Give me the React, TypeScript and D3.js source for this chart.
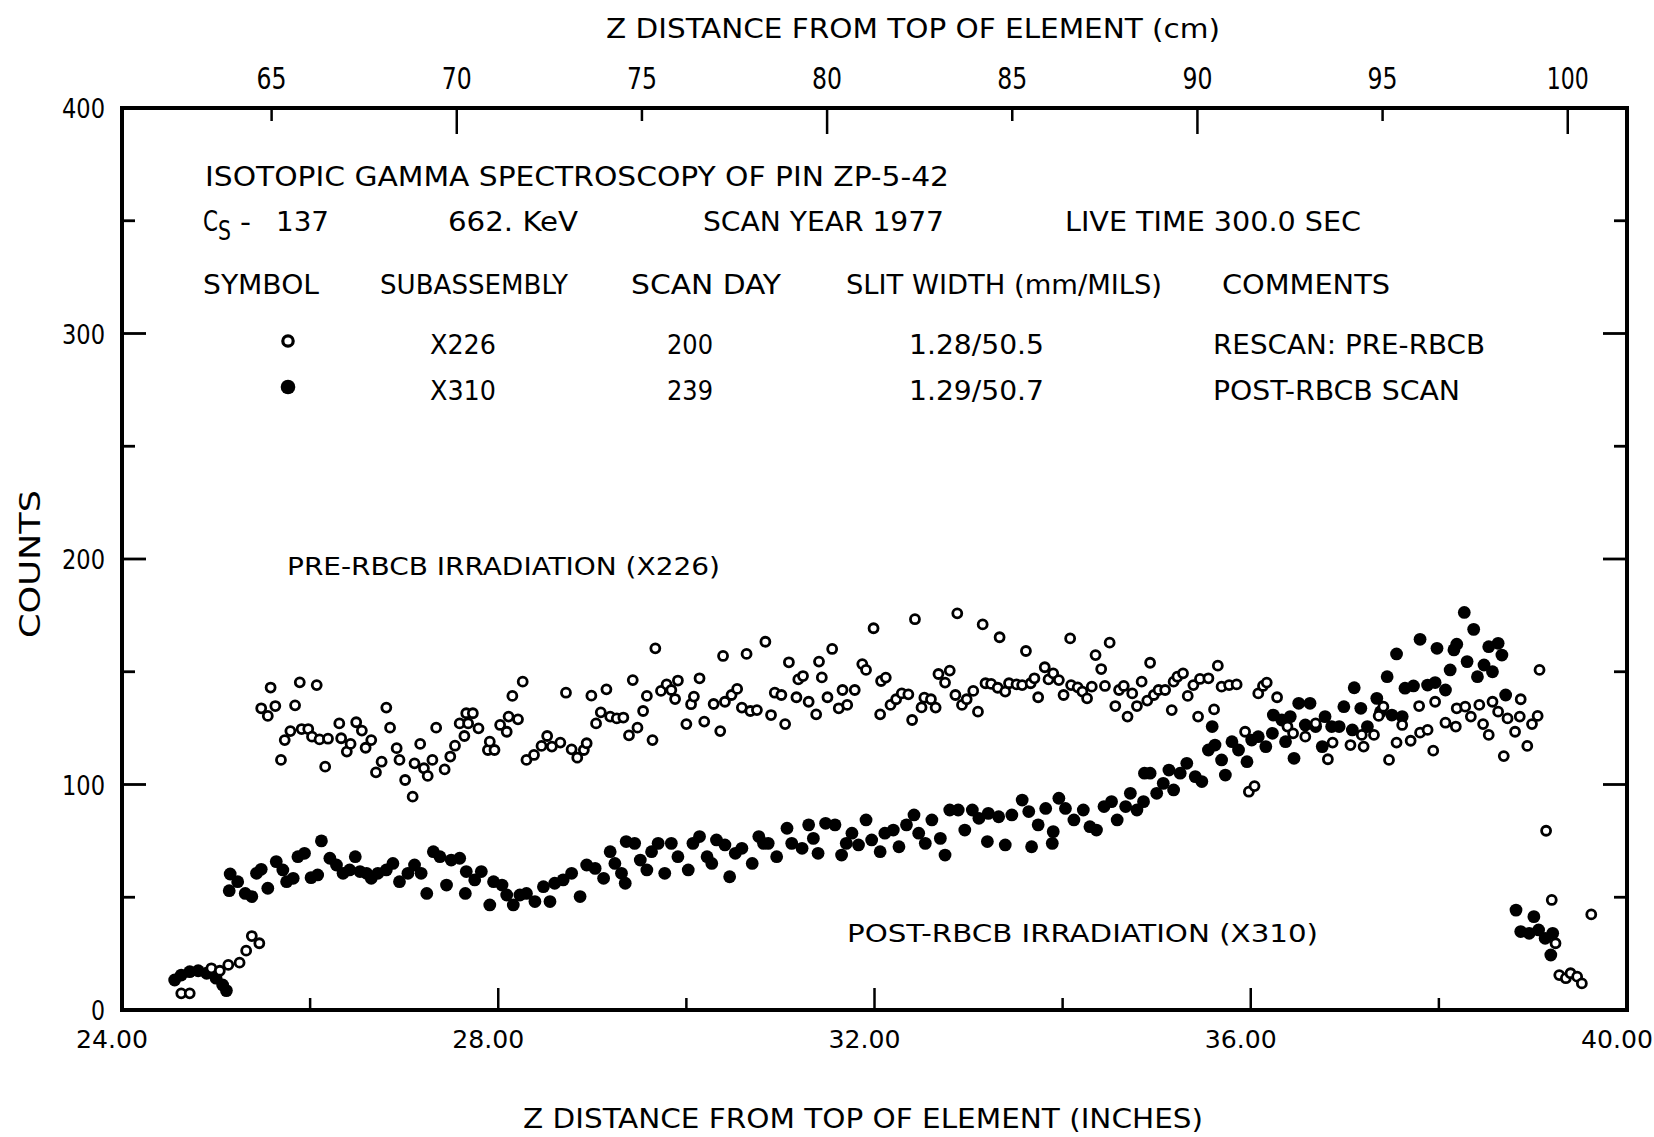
import React from 'react';
import * as d3 from 'd3';

const width = 1654;
const height = 1137;
const FONT = "'DejaVu Sans Condensed', 'DejaVu Sans', sans-serif";

// pre-RBCB rescan (X226), open circles
const preInches = [
  24.63, 24.72, 24.95, 25.04, 25.13, 25.25, 25.32, 25.38, 25.46,
  25.48, 25.55, 25.58, 25.63, 25.69, 25.73, 25.79, 25.84, 25.89, 25.91, 25.98, 26.02, 26.07, 26.10, 26.16,
  26.19, 26.31, 26.33, 26.39, 26.43, 26.49, 26.55, 26.59, 26.65, 26.70, 26.76, 26.81, 26.85, 26.92, 26.95,
  27.01, 27.09, 27.11, 27.17, 27.21, 27.25, 27.30, 27.34, 27.43, 27.49, 27.54, 27.59, 27.64, 27.66,
  27.68, 27.73, 27.79, 27.89, 27.91, 27.96, 28.02, 28.09, 28.11, 28.15, 28.21, 28.26, 28.30, 28.38, 28.46,
  28.52, 28.57, 28.66, 28.72, 28.78, 28.84, 28.91, 28.94, 28.99, 29.04, 29.09, 29.15, 29.19, 29.26, 29.33,
  29.39, 29.43, 29.48, 29.54, 29.58, 29.64, 29.67, 29.73, 29.79, 29.84, 29.88, 29.91, 30.00, 30.05, 30.08,
  30.14, 30.19, 30.29, 30.36, 30.39, 30.41, 30.48, 30.54, 30.59, 30.64, 30.68, 30.75,
  30.84, 30.90, 30.94, 31.01, 31.05, 31.09, 31.17, 31.19, 31.24, 31.30, 31.38, 31.41, 31.44, 31.50, 31.55,
  31.62, 31.66, 31.71, 31.79, 31.87, 31.91, 31.99, 32.06, 32.07, 32.12, 32.17, 32.23, 32.29, 32.36, 32.40,
  32.43, 32.50, 32.53, 32.60, 32.65, 32.68, 32.75, 32.80, 32.86, 32.88, 32.93, 32.98, 33.05, 33.10, 33.15,
  33.18, 33.24, 33.31, 33.33, 33.39, 33.43, 33.51, 33.57, 33.61, 33.66, 33.70, 33.74, 33.81, 33.85, 33.90,
  33.96, 34.01, 34.08, 34.09, 34.16, 34.21, 34.26, 34.31, 34.35, 34.41, 34.45, 34.50, 34.56, 34.60, 34.65,
  34.69, 34.74, 34.79, 34.84, 34.90, 34.93, 34.97, 35.02, 35.09, 35.16, 35.18, 35.22, 35.28, 35.33, 35.39,
  35.44, 35.46, 35.55, 35.61, 35.65, 35.69, 35.77, 35.85, 35.94, 35.98, 36.04, 36.08, 36.13, 36.17, 36.28,
  36.39, 36.45, 36.58, 36.69, 36.82, 36.87,
  37.06, 37.18, 37.20, 37.31, 37.36, 37.41, 37.47, 37.55, 37.61, 37.70, 37.79, 37.80, 37.88, 37.94, 37.96,
  38.07, 38.18, 38.19, 38.28, 38.34, 38.43, 38.47, 38.53, 38.57, 38.63, 38.69, 38.73, 38.81, 38.86, 38.87,
  38.94, 38.99, 39.05, 39.07, 39.14, 39.20, 39.24, 39.28, 39.35, 39.40, 39.47, 39.52, 39.62,
];
const preCounts = [
  7.4, 7.4, 18.5, 17.4, 20.0, 21.0, 26.3, 32.8, 29.6,
  133.8, 130.4, 143.0, 134.8, 110.9, 119.7, 123.7, 135.1, 145.3, 124.6, 124.6, 121.2, 144.1, 120.0, 107.9,
  120.3, 127.1, 120.5, 114.6, 118.0, 127.6, 123.9, 116.3, 119.7, 105.4, 110.1, 134.1, 125.2, 116.1, 110.9,
  102.0, 94.6, 109.4, 118.0, 107.2, 103.8, 110.9, 125.2, 106.7, 112.4, 117.2, 127.1, 121.5, 131.6,
  127.1, 131.6, 124.9, 115.3, 119.0, 115.3, 126.4, 123.4, 130.1, 139.3, 128.9, 145.6, 110.9, 113.1, 117.1,
  121.5, 116.8, 118.6, 140.7, 115.6, 111.9, 115.3, 118.3, 139.4, 127.1, 132.0, 142.2, 130.1, 129.3, 129.7,
  121.8, 146.3, 125.2, 132.6, 139.3, 119.7, 160.4, 141.5, 144.4, 141.9, 137.9, 146.1, 126.8, 135.6, 139.0,
  147.1, 127.9, 135.7, 123.7, 157.0, 136.7, 139.7, 142.4, 134.1, 157.9, 132.6, 133.0,
  163.3, 130.8, 140.7, 139.7, 126.8, 154.2, 138.7, 146.6, 148.1, 136.7, 131.1, 154.5, 147.5, 138.7, 160.1,
  133.8, 141.9, 135.3, 141.9, 153.4, 150.8, 169.3, 131.1, 145.9, 147.4, 135.3, 137.8, 140.4, 140.0, 128.6,
  173.3, 134.2, 138.5, 137.8, 134.1, 149.0, 145.2, 150.5, 139.7, 175.9, 135.3, 137.8, 141.5, 132.3, 171.0,
  144.9, 144.6, 142.9, 165.3, 141.2, 144.9, 144.4, 144.1, 159.2, 144.9, 147.1, 138.7, 152.0, 146.6, 149.3,
  146.3, 139.7, 164.8, 144.1, 143.1, 141.2, 138.2, 143.4, 157.4, 151.2, 143.7, 162.9, 134.8, 141.9, 143.7,
  130.1, 140.4, 134.8, 145.6, 137.2, 154.0, 139.7, 141.9, 141.9, 133.0, 145.6, 147.8, 149.3, 139.3, 144.1,
  130.1, 146.8, 147.1, 133.3, 152.7, 143.4, 144.1, 144.4, 123.4, 96.8, 99.3, 140.4, 143.7, 145.2, 138.7,
  125.7, 122.7, 121.2, 127.1, 111.2, 118.6,
  117.5, 122.0, 116.8, 122.0, 130.4, 134.5, 110.9, 118.6, 126.4, 119.4, 134.8, 123.0, 124.2, 115.0, 136.7,
  127.4, 125.7, 133.8, 134.5, 130.1, 135.3, 126.8, 122.0, 136.7, 132.3, 112.6, 129.3, 123.4, 130.1, 137.8,
  117.1, 126.8, 130.4, 150.8, 79.5, 48.8, 29.6, 15.5, 14.1, 16.3, 14.8, 11.8, 42.4,
];

// post-RBCB scan (X310), filled circles
const postInches = [
  24.56, 24.63, 24.72, 24.81, 24.90, 25.00, 25.07, 25.11,
  25.14, 25.15, 25.23, 25.31, 25.38, 25.43, 25.48, 25.55, 25.64, 25.71, 25.75, 25.82, 25.87, 25.94, 26.01,
  26.08, 26.12, 26.21, 26.28, 26.35, 26.42, 26.48, 26.53, 26.60, 26.65, 26.72, 26.81, 26.88, 26.95, 27.04,
  27.11, 27.18, 27.24, 27.31, 27.38, 27.45, 27.50, 27.59, 27.65,
  27.66, 27.75, 27.82, 27.91, 27.95, 28.04, 28.09, 28.16, 28.23, 28.30, 28.39, 28.48, 28.55, 28.60, 28.69,
  28.78, 28.87, 28.94, 29.03, 29.12, 29.19, 29.24, 29.31, 29.35, 29.36, 29.45, 29.51, 29.58, 29.63, 29.70,
  29.77, 29.84, 29.91, 30.02, 30.07, 30.14, 30.22, 30.27, 30.32, 30.41, 30.46, 30.52, 30.59, 30.70,
  30.77, 30.82, 30.87, 30.96, 31.07, 31.12, 31.23, 31.30, 31.35, 31.40, 31.48, 31.58, 31.65, 31.70, 31.76,
  31.83, 31.91, 31.97, 32.06, 32.11, 32.20, 32.26, 32.34, 32.42, 32.47, 32.54, 32.61, 32.70, 32.75, 32.80,
  32.89, 32.96, 33.04, 33.11, 33.20, 33.21, 33.32, 33.39, 33.46, 33.57, 33.64, 33.67, 33.74, 33.82, 33.89,
  33.90,
  33.96, 34.03, 34.12, 34.22, 34.29, 34.36, 34.44, 34.52, 34.58, 34.67, 34.72, 34.79, 34.86, 34.87, 34.93,
  35.00, 35.07, 35.13, 35.18, 35.25, 35.32, 35.41, 35.48, 35.55, 35.59, 35.62, 35.69, 35.73, 35.80, 35.87,
  35.96, 36.01, 36.08, 36.16, 36.23, 36.24, 36.33, 36.37, 36.42, 36.46, 36.51, 36.58, 36.63, 36.69, 36.76,
  36.79, 36.86,
  36.94, 36.99, 37.08, 37.10, 37.17, 37.24, 37.34, 37.38, 37.45, 37.50, 37.55, 37.61, 37.64, 37.73, 37.80,
  37.88, 37.96, 37.98, 38.07, 38.12, 38.16, 38.19, 38.27, 38.30, 38.37, 38.41, 38.48, 38.53, 38.57, 38.63,
  38.67, 38.71, 38.82, 38.87, 38.96, 39.01, 39.06, 39.13, 39.19, 39.21,
];
const postCounts = [
  13.3, 15.5, 17.0, 17.4, 16.3, 14.1, 11.1, 8.6,
  52.9, 60.3, 56.9, 51.7, 50.3, 60.6, 62.4, 54.0, 65.8, 62.1, 56.9, 58.4, 68.0, 69.5, 58.7,
  59.9, 75.0, 67.3, 64.3, 60.6, 62.1, 68.0, 61.4, 60.6, 58.4, 60.6, 62.1, 65.0, 56.9, 60.6,
  64.3, 60.6, 51.7, 70.2, 68.0, 55.4, 66.5, 67.3, 51.7,
  61.4, 57.7, 61.4, 46.6, 56.9, 55.4, 51.0, 46.6, 51.0, 51.7, 48.1, 54.7, 48.1, 56.2, 57.7,
  60.6, 50.3, 64.3, 62.8, 58.4, 70.2, 65.0, 60.6, 56.2, 74.7, 73.9, 66.5, 62.1, 70.2, 73.9,
  60.6, 73.9, 68.0, 62.1, 73.9, 76.9, 68.0, 65.0, 75.4, 73.2, 59.1, 69.5, 71.7, 65.0,
  76.9, 73.9, 73.9, 68.0, 80.6, 73.9, 71.7, 82.1, 76.1, 69.5, 82.8, 82.1, 68.7, 73.9, 78.4,
  73.2, 84.3, 75.4, 70.2, 78.4, 79.8, 72.4, 82.1, 86.5, 78.4, 73.9, 84.3, 76.1, 68.7, 88.7,
  88.7, 79.8, 88.7, 85.0, 74.7, 87.2, 85.7, 73.2, 86.5, 93.1, 88.0, 72.4, 82.1, 89.4, 73.9,
  79.1,
  93.9, 89.4, 84.3, 88.7, 81.3, 79.8, 90.2, 92.4, 84.3, 90.2, 96.1, 88.7, 92.4, 105.0, 105.0,
  96.1, 100.5, 106.4, 97.6, 105.0, 109.4, 103.5, 101.3, 115.3, 125.7, 117.5, 110.9, 104.2, 119.0, 115.3,
  110.1, 119.7, 121.2, 116.8, 122.7, 130.8, 128.6, 119.0, 130.1, 111.6, 136.0, 126.4, 136.0, 125.7, 116.8,
  130.1, 125.7,
  125.7, 134.5, 124.2, 142.9, 133.8, 125.7, 138.2, 132.3, 147.8, 130.8, 157.9, 130.1, 142.7, 143.7, 164.4,
  144.1, 145.2, 160.4, 141.9, 150.8, 159.7, 162.2, 176.3, 154.5, 168.8, 147.8, 153.0, 161.1, 150.0, 162.6,
  157.4, 139.7, 44.3, 34.8, 34.0, 41.4, 35.5, 31.8, 24.4, 34.0,
];

const countTicks = d3.range(0, 401, 50);
const countLabels = [0, 100, 200, 300, 400];
const inchTicks = d3.range(26, 39, 2);
const inchLabels = [24, 28, 32, 36, 40];
const cmTicks = d3.range(65, 101, 5);

const x = d3.scaleLinear().domain([24, 40]).range([122, 1627]);
const xCm = d3.scaleLinear().domain([24 * 2.54, 40 * 2.54]).range([122, 1627]);
const y = d3.scaleLinear().domain([0, 400]).range([1010, 108]);

const T = ({ x, y, w, size = 26, anchor = 'start', children, ...rest }) => (
  <text
    x={x}
    y={y}
    fontSize={size}
    textAnchor={anchor}
    textLength={w}
    lengthAdjust={w ? 'spacingAndGlyphs' : undefined}
    {...rest}
  >
    {children}
  </text>
);

const OpenDot = ({ cx, cy, r = 4.5, sw = 2.8 }) => (
  <circle cx={cx} cy={cy} r={r} fill="#fff" stroke="#000" strokeWidth={sw} />
);
const FullDot = ({ cx, cy, r = 6.4 }) => <circle cx={cx} cy={cy} r={r} fill="#000" />;

const Axes = () => {
  const [x0, x1] = x.range();
  const [y0, y1] = y.range();
  return (
    <g stroke="#000">
      <rect x={x0} y={y1} width={x1 - x0} height={y0 - y1} fill="none" strokeWidth={4} />
      {countTicks.map(v => {
        let len = v % 100 === 0 ? 24 : 13;
        if (v === 0 || v === 400) return null;
        return (
          <g key={'c' + v} strokeWidth={2.8}>
            <line x1={x0} x2={x0 + len} y1={y(v)} y2={y(v)} />
            <line x1={x1} x2={x1 - len} y1={y(v)} y2={y(v)} />
          </g>
        );
      })}
      {inchTicks.map(v => {
        let len = v % 4 === 0 ? 22 : 12;
        return <line key={'i' + v} x1={x(v)} x2={x(v)} y1={y0} y2={y0 - len} strokeWidth={2.5} />;
      })}
      {cmTicks.map(v => {
        let len = v % 10 === 0 ? 26 : 13;
        return <line key={'m' + v} x1={xCm(v)} x2={xCm(v)} y1={y1} y2={y1 + len} strokeWidth={2.5} />;
      })}
    </g>
  );
};

export default function App() {
  return (
    <svg
      width={width}
      height={height}
      style={{ position: 'absolute', left: 0, top: 0, background: '#fff' }}
      fontFamily={FONT}
    >
      <rect width={width} height={height} fill="#fff" />
      <Axes />

      {/* axis labels */}
      <g fill="#000">
        <T x={913} y={38} size={27} w={614} anchor="middle">Z DISTANCE FROM TOP OF ELEMENT (cm)</T>
        {cmTicks.map(v => (
          <T key={v} x={xCm(v)} y={89} size={30} w={v === 100 ? 42 : 30} anchor="middle">{v}</T>
        ))}
        {countLabels.map(v => (
          <T key={v} x={105} y={y(v) + 10} size={27} w={v === 0 ? 14 : 43} anchor="end">{v}</T>
        ))}
        {inchLabels.map(v => (
          <T key={v} x={x(v) - 10} y={1048} size={25} w={72} anchor="middle">{v.toFixed(2)}</T>
        ))}
        <T x={523} y={1128} size={27} w={680}>Z DISTANCE FROM TOP OF ELEMENT (INCHES)</T>
        <T x={0} y={0} size={28} w={148} anchor="middle" transform="translate(40,564) rotate(-90)">COUNTS</T>
      </g>

      {/* legend block */}
      <g fill="#000">
        <T x={205} y={186} size={27} w={744}>ISOTOPIC GAMMA SPECTROSCOPY OF PIN ZP-5-42</T>
        <T x={203} y={231} size={29} w={15}>C</T>
        <T x={218} y={240} size={27} w={13}>S</T>
        <T x={240} y={231} size={26} w={11}>-</T>
        <T x={276} y={231} size={26} w={53}>137</T>
        <T x={448} y={231} w={130}>662. KeV</T>
        <T x={703} y={231} w={241}>SCAN YEAR 1977</T>
        <T x={1065} y={231} w={296}>LIVE TIME 300.0 SEC</T>

        <T x={203} y={294} w={116}>SYMBOL</T>
        <T x={380} y={294} w={188}>SUBASSEMBLY</T>
        <T x={631} y={294} w={150}>SCAN DAY</T>
        <T x={846} y={294} w={316}>SLIT WIDTH (mm/MILS)</T>
        <T x={1222} y={294} w={168}>COMMENTS</T>

        <OpenDot cx={288} cy={341} r={5.2} sw={3.2} />
        <T x={430} y={354} w={66}>X226</T>
        <T x={667} y={354} w={46}>200</T>
        <T x={909} y={354} w={135}>1.28/50.5</T>
        <T x={1213} y={354} w={272}>RESCAN:  PRE-RBCB</T>

        <FullDot cx={288} cy={387} r={7.3} />
        <T x={430} y={400} w={66}>X310</T>
        <T x={667} y={400} w={46}>239</T>
        <T x={909} y={400} w={135}>1.29/50.7</T>
        <T x={1213} y={400} w={247}>POST-RBCB SCAN</T>

        <T x={287} y={575} size={25} w={433}>PRE-RBCB IRRADIATION (X226)</T>
        <T x={847} y={942} size={25} w={471}>POST-RBCB IRRADIATION (X310)</T>
      </g>

      {/* data */}
      <g>
        {postInches.map((v, i) => (
          <FullDot key={'b' + i} cx={x(v)} cy={y(postCounts[i])} />
        ))}
        {preInches.map((v, i) => (
          <OpenDot key={'a' + i} cx={x(v)} cy={y(preCounts[i])} />
        ))}
      </g>
    </svg>
  );
}
